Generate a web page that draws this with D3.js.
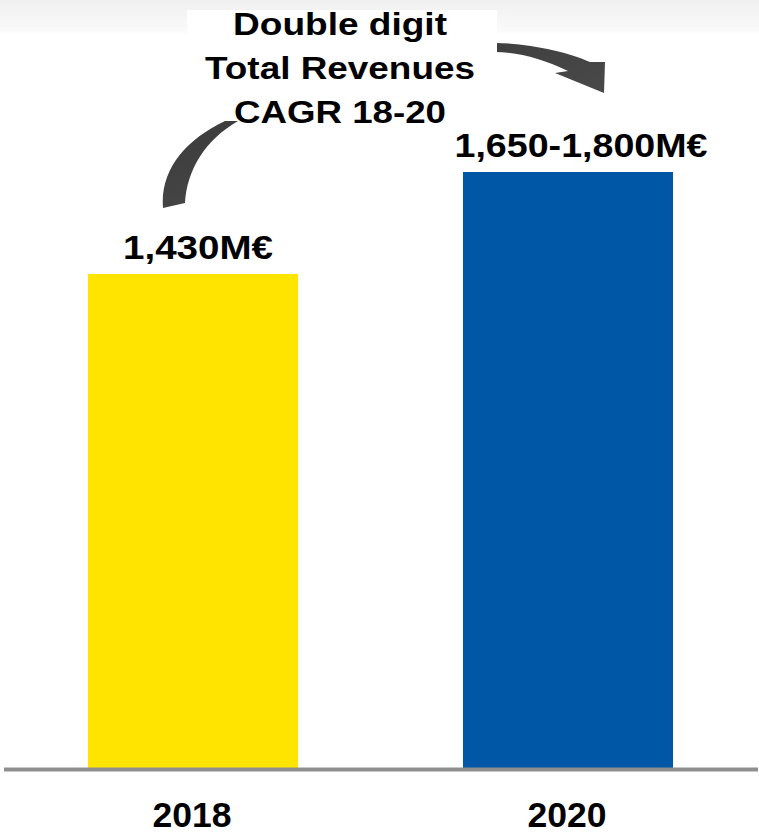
<!DOCTYPE html>
<html>
<head>
<meta charset="utf-8">
<script src="https://cdn.jsdelivr.net/npm/d3@7"></script>
<style>
  html, body { margin: 0; padding: 0; background: #fff; }
  svg { display: block; font-family: "Liberation Sans", Arial, sans-serif; }
</style>
</head>
<body>
<div id="chart"></div>
<script>
const years = ["2018", "2020"];
const revenues = [1430, 1725];          // 2020 = midpoint of guidance range
const valueLabels = ["1,430M€", "1,650-1,800M€"];
const barColors = ["#FFE400", "#0057A5"];
const noteLines = ["Double digit", "Total Revenues", "CAGR 18-20"];

const width = 759, height = 835;
const baseY = 768;

const svg = d3.select("#chart").append("svg")
  .attr("width", width)
  .attr("height", height);

const defs = svg.append("defs");
const bandGrad = defs.append("linearGradient").attr("id", "band")
  .attr("x1", 0).attr("y1", 0).attr("x2", 0).attr("y2", 1);
bandGrad.append("stop").attr("offset", "0%").attr("stop-color", "#f0f0f0");
bandGrad.append("stop").attr("offset", "100%").attr("stop-color", "#fbfbfb");

const arrowGrad = defs.append("linearGradient").attr("id", "arrowFill")
  .attr("x1", 0).attr("y1", 0).attr("x2", 1).attr("y2", 1);
arrowGrad.append("stop").attr("offset", "0%").attr("stop-color", "#333");
arrowGrad.append("stop").attr("offset", "100%").attr("stop-color", "#555");

// light top band
svg.append("rect").attr("x", 0).attr("y", 0)
  .attr("width", width).attr("height", 33)
  .attr("fill", "url(#band)");

const x = d3.scaleBand()
  .domain(years)
  .range([5, 756])
  .paddingInner(0.44)
  .paddingOuter(0.2213);

const y = d3.scaleLinear()
  .domain([0, d3.max(revenues)])
  .range([baseY, 172]);

const data = years.map((yr, i) => ({ year: yr, value: revenues[i], label: valueLabels[i], color: barColors[i] }));

// bars
svg.selectAll(".bar")
  .data(data)
  .enter()
  .append("rect")
  .attr("class", "bar")
  .attr("x", d => x(d.year))
  .attr("y", d => y(d.value))
  .attr("width", x.bandwidth())
  .attr("height", d => baseY - y(d.value))
  .attr("fill", d => d.color);

// baseline
svg.append("line")
  .attr("x1", 4).attr("x2", 758)
  .attr("y1", baseY + 1.5).attr("y2", baseY + 1.5)
  .attr("stroke", "#8f8f8f")
  .attr("stroke-width", 4);

// year labels
svg.selectAll(".year")
  .data(data)
  .enter()
  .append("text")
  .attr("class", "year")
  .attr("x", d => x(d.year) + x.bandwidth() / 2 - 1)
  .attr("y", 827)
  .attr("text-anchor", "middle")
  .attr("font-weight", "bold")
  .attr("font-size", 35)
  .attr("textLength", 79)
  .attr("lengthAdjust", "spacingAndGlyphs")
  .attr("fill", "#000")
  .text(d => d.year);

// value labels
const labelShift = [5, 13];
const labelWidth = [150, 253];
svg.selectAll(".val")
  .data(data)
  .enter()
  .append("text")
  .attr("class", "val")
  .attr("x", (d, i) => x(d.year) + x.bandwidth() / 2 + labelShift[i])
  .attr("y", d => y(d.value) - 15)
  .attr("text-anchor", "middle")
  .attr("font-weight", "bold")
  .attr("font-size", 34)
  .attr("textLength", (d, i) => labelWidth[i])
  .attr("lengthAdjust", "spacingAndGlyphs")
  .attr("fill", "#000")
  .text(d => d.label);

// curved arrow from 2018 label to 2020 label (passes behind the note box)
const a = { x: x(years[0]) + x.bandwidth() / 2, y: y(revenues[0]) };
const b = { x: x(years[1]) + x.bandwidth() / 2, y: y(revenues[1]) };

const arrowPath = [
  `M${a.x - 30},${a.y - 66}`,
  `C${a.x - 33},${a.y - 104} ${a.x - 8},${a.y - 134} ${a.x + 32},${a.y - 153}`,
  `C${a.x + 100},${a.y - 200} ${a.x + 200},${a.y - 228} ${b.x - 73},${b.y - 129}`,
  `C${b.x - 40},${b.y - 129} ${b.x},${b.y - 120} ${b.x + 22},${b.y - 110}`,
  `L${b.x + 37},${b.y - 110}`,
  `L${b.x + 36},${b.y - 79}`,
  `L${b.x - 13},${b.y - 99}`,
  `L${b.x},${b.y - 101}`,
  `C${b.x - 25},${b.y - 113} ${b.x - 50},${b.y - 120} ${b.x - 73},${b.y - 120}`,
  `C${a.x + 200},${a.y - 215} ${a.x + 110},${a.y - 185} ${a.x + 45},${a.y - 153}`,
  `C${a.x + 12},${a.y - 134} ${a.x - 6},${a.y - 104} ${a.x - 8},${a.y - 71}`,
  "Z"
].join(" ");

svg.append("path")
  .attr("d", arrowPath)
  .attr("fill", "url(#arrowFill)");

// note box
svg.append("rect")
  .attr("x", 187).attr("y", 10)
  .attr("width", 310).attr("height", 111)
  .attr("fill", "#fff");

const noteWidths = [214, 270, 212];
svg.selectAll(".note")
  .data(noteLines)
  .enter()
  .append("text")
  .attr("class", "note")
  .attr("x", 340)
  .attr("y", (d, i) => 35 + i * 44)
  .attr("text-anchor", "middle")
  .attr("font-weight", "bold")
  .attr("font-size", 32)
  .attr("textLength", (d, i) => noteWidths[i])
  .attr("lengthAdjust", "spacingAndGlyphs")
  .attr("fill", "#000")
  .text(d => d);
</script>
</body>
</html>
